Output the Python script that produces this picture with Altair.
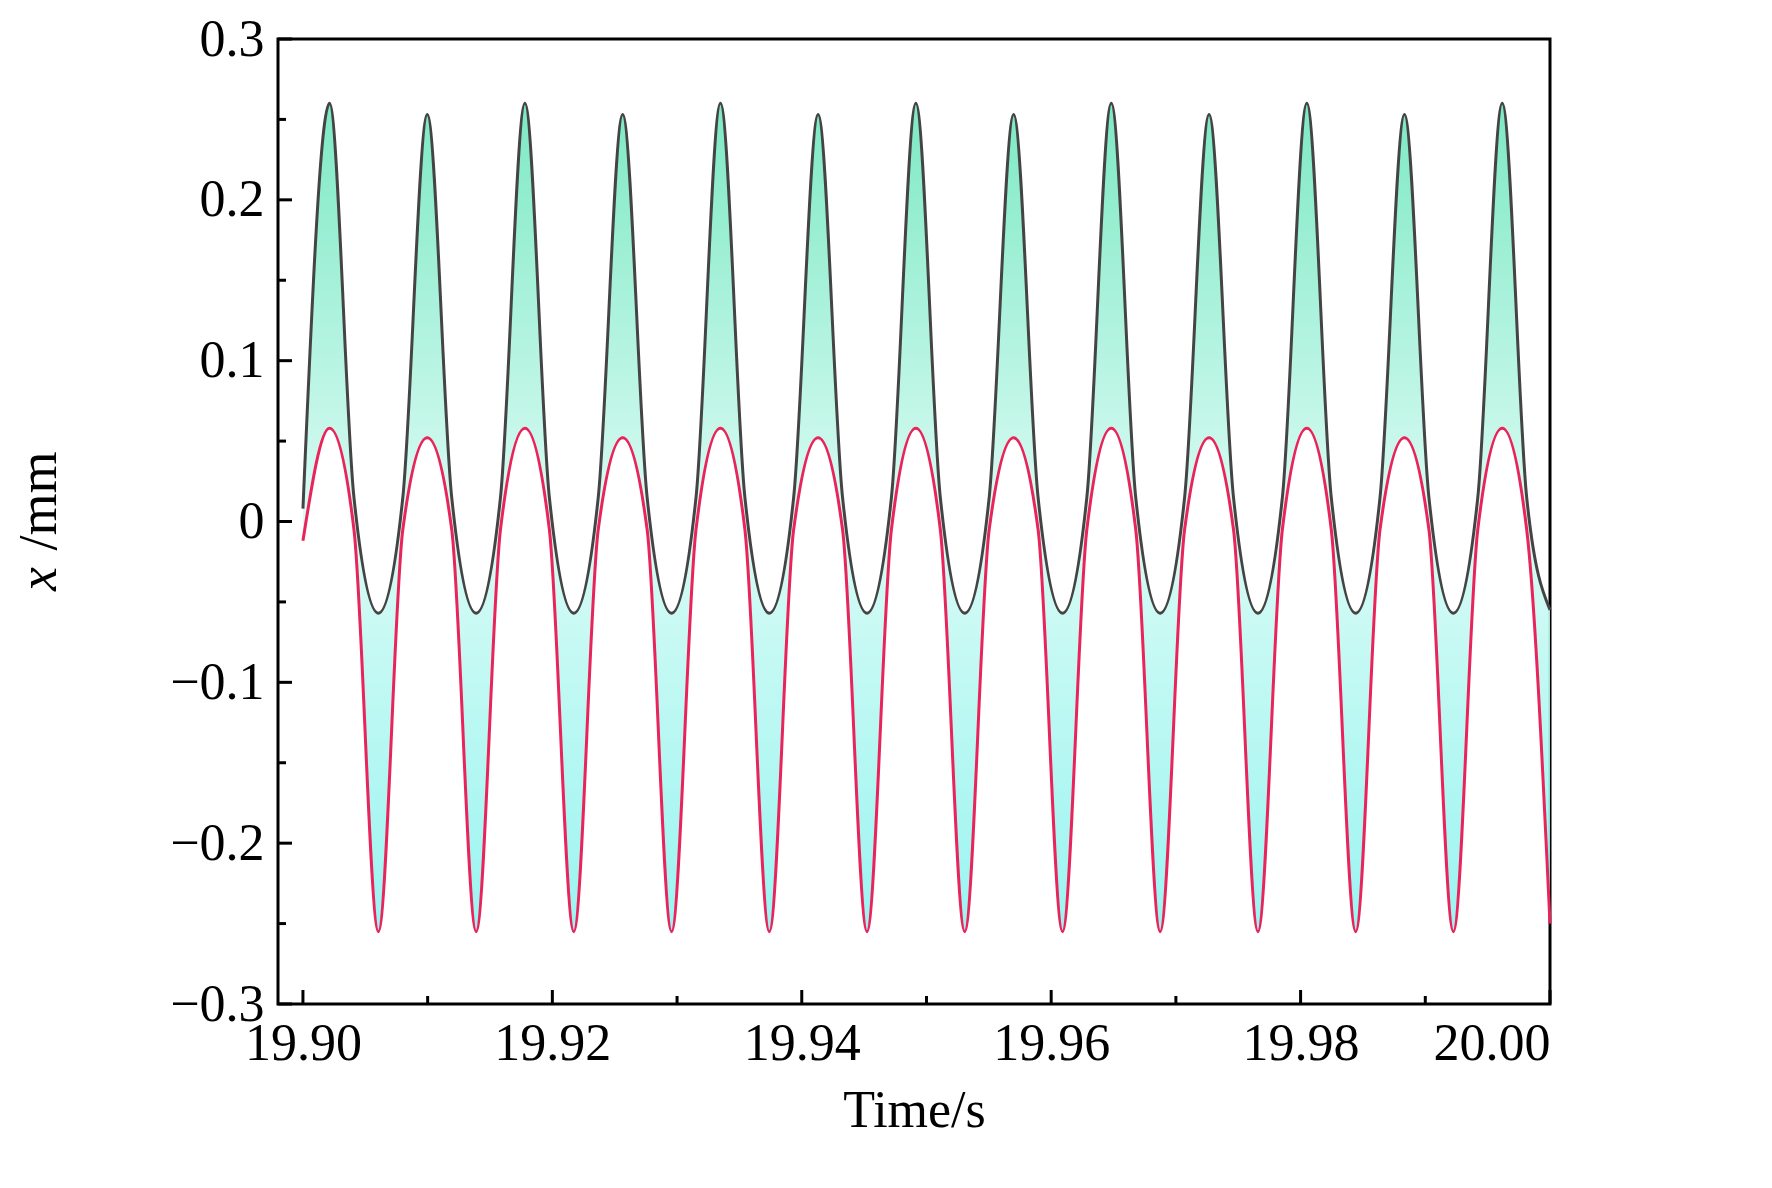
import altair as alt
import pandas as pd

times = [19.9000, 19.90213, 19.90409, 19.90605, 19.90801, 19.90997, 19.91193, 19.91389, 19.91584,
         19.91780, 19.91976, 19.92172, 19.92368, 19.92564, 19.92760, 19.92956, 19.93152,
         19.93348, 19.93544, 19.93740, 19.93935, 19.94131, 19.94327, 19.94523, 19.94719,
         19.94915, 19.95111, 19.95307, 19.95503, 19.95699, 19.95895, 19.96091, 19.96286,
         19.96482, 19.96678, 19.96874, 19.97070, 19.97266, 19.97462, 19.97658, 19.97854,
         19.98050, 19.98246, 19.98442, 19.98637, 19.98833, 19.99029, 19.99225, 19.99421,
         19.99617, 19.99813, 20.0000]
black = [0.008, 0.260, 0.015, -0.057, 0.015, 0.253, 0.015, -0.057, 0.015,
         0.260, 0.015, -0.057, 0.015, 0.253, 0.015, -0.057, 0.015,
         0.260, 0.015, -0.057, 0.015, 0.253, 0.015, -0.057, 0.015,
         0.260, 0.015, -0.057, 0.015, 0.253, 0.015, -0.057, 0.015,
         0.260, 0.015, -0.057, 0.015, 0.253, 0.015, -0.057, 0.015,
         0.260, 0.015, -0.057, 0.015, 0.253, 0.015, -0.057, 0.015,
         0.260, 0.015, -0.055]
red = [-0.012, 0.058, -0.005, -0.255, -0.005, 0.052, -0.005, -0.255, -0.005,
       0.058, -0.005, -0.255, -0.005, 0.052, -0.005, -0.255, -0.005,
       0.058, -0.005, -0.255, -0.005, 0.052, -0.005, -0.255, -0.005,
       0.058, -0.005, -0.255, -0.005, 0.052, -0.005, -0.255, -0.005,
       0.058, -0.005, -0.255, -0.005, 0.052, -0.005, -0.255, -0.005,
       0.058, -0.005, -0.255, -0.005, 0.052, -0.005, -0.255, -0.005,
       0.058, -0.005, -0.250]

y_major = [-0.3, -0.2, -0.1, 0.0, 0.1, 0.2, 0.3]
y_minor = [-0.25, -0.15, -0.05, 0.05, 0.15, 0.25]
x_major = [19.90, 19.92, 19.94, 19.96, 19.98, 20.00]
x_minor = [19.91, 19.93, 19.95, 19.97, 19.99]

W, H = 1272, 965
FONT = "Liberation Serif"

df = pd.DataFrame({"t": times, "black": black, "red": red})

xs = alt.Scale(domain=[19.898, 20.0], nice=False, zero=False)
ys = alt.Scale(domain=[-0.3, 0.3], nice=False)

xaxis = alt.Axis(values=x_major, labelExpr="format(datum.value, '.2f')", grid=False,
                 ticks=False, domain=False, labelFontSize=52, labelFont=FONT, labelColor="black",
                 title="Time/s", titleFontSize=52, titleFont=FONT, titleFontWeight="normal",
                 titleColor="black", labelPadding=14, titlePadding=16)
yaxis = alt.Axis(values=y_major, labelExpr="datum.value == 0 ? '0' : format(datum.value, '.1f')",
                 grid=False, ticks=False, domain=False, labelFontSize=52, labelFont=FONT,
                 labelColor="black", title=None, labelPadding=14)

grad = alt.Gradient(gradient="linear", x1=0, y1=0, x2=0, y2=1, stops=[
    alt.GradientStop(color="#6fe6bd", offset=0),
    alt.GradientStop(color="#d6fbf3", offset=0.5),
    alt.GradientStop(color="#8ff3f0", offset=1)])

base = alt.Chart(df)
area = base.mark_area(interpolate="monotone", color=grad, opacity=0.9).encode(
    x=alt.X("t:Q", scale=xs, axis=xaxis),
    y=alt.Y("red:Q", scale=ys, axis=yaxis),
    y2="black:Q")
lb = base.mark_line(interpolate="monotone", color="#444444", strokeWidth=3).encode(
    x=alt.X("t:Q", scale=xs), y=alt.Y("black:Q", scale=ys))
lr = base.mark_line(interpolate="monotone", color="#e8245a", strokeWidth=3).encode(
    x=alt.X("t:Q", scale=xs), y=alt.Y("red:Q", scale=ys))

def yt(vals, ln):
    return alt.Chart(pd.DataFrame({"v": vals})).mark_rule(color="black", strokeWidth=3).encode(
        y=alt.Y("v:Q", scale=ys), x=alt.value(0), x2=alt.value(ln))

def xt(vals, ln):
    return alt.Chart(pd.DataFrame({"v": vals})).mark_rule(color="black", strokeWidth=3).encode(
        x=alt.X("v:Q", scale=xs), y=alt.value(H), y2=alt.value(H - ln))

tx = alt.Chart(pd.DataFrame({"s": ["x"]})).mark_text(
    text="x", font=FONT, fontSize=54, fontStyle="italic", angle=270,
    align="center", baseline="middle").encode(x=alt.value(-238), y=alt.value(540))
tmm = alt.Chart(pd.DataFrame({"s": ["/mm"]})).mark_text(
    text="/mm", font=FONT, fontSize=54, angle=270,
    align="center", baseline="middle").encode(x=alt.value(-238), y=alt.value(462))

chart = alt.layer(area, lb, lr, yt(y_major, 14), yt(y_minor, 8), xt(x_major, 14), xt(x_minor, 8),
                  tx, tmm).properties(
    width=W, height=H, background="white"
).configure_view(stroke="black", strokeWidth=3)

chart.save("out.html", embed_options={"renderer": "svg", "actions": False})
